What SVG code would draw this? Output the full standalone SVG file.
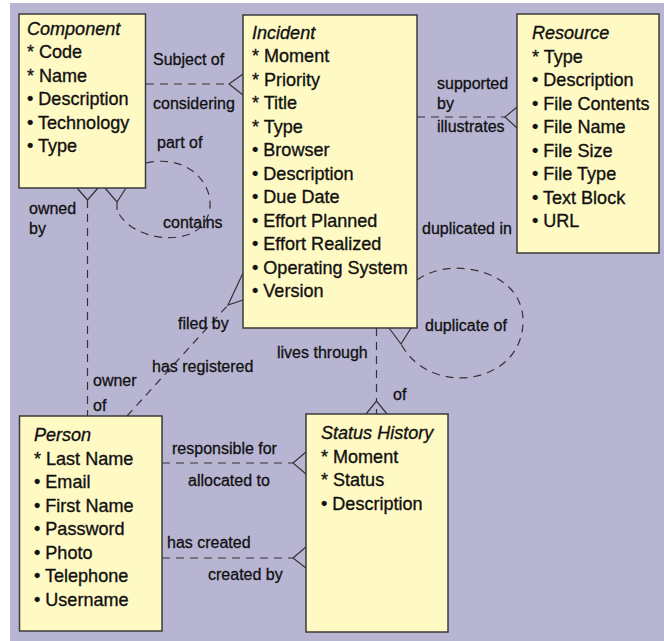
<svg xmlns="http://www.w3.org/2000/svg" width="664" height="641" viewBox="0 0 664 641">
<style>
.bg{fill:#b8b5d3}
.box{fill:#fff9c4;stroke:#3a3a3a;stroke-width:1.5}
.t{font-family:"Liberation Sans",Arial,sans-serif;font-size:19px;fill:#111;stroke:#111;stroke-width:0.35}
.ti{font-style:italic}
.lb{font-family:"Liberation Sans",Arial,sans-serif;font-size:16px;fill:#111;stroke:#111;stroke-width:0.3}
.dash{fill:none;stroke:#333;stroke-width:1.2;stroke-dasharray:8 6}
.crow{fill:none;stroke:#333;stroke-width:1.2}
</style>
<rect class="bg" x="10" y="3" width="654" height="638"/>

<g id="connectors">
  <!-- Component - Incident -->
  <path class="dash" d="M146,84 H229"/>
  <path class="crow" d="M243,74 L229,84 L243,95"/>
  <!-- Incident - Resource -->
  <path class="dash" d="M417,117 H505"/>
  <path class="crow" d="M517,107 L505,117 L517,128"/>
  <!-- Component self loop -->
  <path class="dash" d="M146,163 C195,152 222,195 205,222 C188,248 130,240 117,210"/>
  <path class="crow" d="M105,188 L117,202 L126,188 M117,202 V210"/>
  <!-- Component - Person (owned by) -->
  <path class="dash" d="M87.5,200 V416"/>
  <path class="crow" d="M77,188 L87.5,200 L98,188"/>
  <!-- Incident - Person (filed by) -->
  <path class="dash" d="M127,416 L228,305"/>
  <path class="crow" d="M243,273 L228,305 L243,300"/>
  <!-- Incident - Status History -->
  <path class="dash" d="M376.5,328 V401"/>
  <path class="crow" d="M366,414 L376.5,401 L387,414 M376.5,409 V414"/>
  <!-- Incident self loop -->
  <path class="dash" d="M417,280 C450,255 525,270 523,323 C521,385 430,398 401,344"/>
  <path class="crow" d="M389,328 L401,344 L411,328"/>
  <!-- Person - Status History -->
  <path class="dash" d="M162,463 H293"/>
  <path class="crow" d="M306,452 L293,463 L306,474"/>
  <path class="dash" d="M162,558 H293"/>
  <path class="crow" d="M306,547 L293,558 L306,568"/>
  <!-- labels -->
  <text class="lb" x="153" y="65">Subject of</text>
  <text class="lb" x="153" y="109">considering</text>
  <text class="lb" x="157" y="148">part of</text>
  <text class="lb" x="163" y="228">contains</text>
  <text class="lb" x="29" y="214">owned</text>
  <text class="lb" x="29" y="234">by</text>
  <text class="lb" x="93" y="386">owner</text>
  <text class="lb" x="93" y="410.5">of</text>
  <text class="lb" x="178" y="329">filed by</text>
  <text class="lb" x="152" y="372">has registered</text>
  <text class="lb" x="437" y="89">supported</text>
  <text class="lb" x="437" y="108.5">by</text>
  <text class="lb" x="437" y="132">illustrates</text>
  <text class="lb" x="422" y="234">duplicated in</text>
  <text class="lb" x="425" y="330.5">duplicate of</text>
  <text class="lb" x="277" y="358">lives through</text>
  <text class="lb" x="393" y="400">of</text>
  <text class="lb" x="172" y="454">responsible for</text>
  <text class="lb" x="188" y="486">allocated to</text>
  <text class="lb" x="167" y="548">has created</text>
  <text class="lb" x="208" y="580">created by</text>
</g>

<g id="component">
  <rect class="box" x="19" y="14" width="126.5" height="174"/>
  <g transform="translate(27,0) scale(0.95,1)">
    <text class="t ti" x="0" y="35.5">Component</text>
    <text class="t" x="0" y="58.5">* Code</text>
    <text class="t" x="0" y="82">* Name</text>
    <text class="t" x="0" y="105.5">• Description</text>
    <text class="t" x="0" y="129">• Technology</text>
    <text class="t" x="0" y="152.5">• Type</text>
  </g>
</g>

<g id="incident">
  <rect class="box" x="243" y="15" width="174" height="313"/>
  <g transform="translate(252,0) scale(0.95,1)">
    <text class="t ti" x="0" y="39">Incident</text>
    <text class="t" x="0" y="62.5">* Moment</text>
    <text class="t" x="0" y="86">* Priority</text>
    <text class="t" x="0" y="109.5">* Title</text>
    <text class="t" x="0" y="133">* Type</text>
    <text class="t" x="0" y="156.5">• Browser</text>
    <text class="t" x="0" y="180">• Description</text>
    <text class="t" x="0" y="203.5">• Due Date</text>
    <text class="t" x="0" y="227">• Effort Planned</text>
    <text class="t" x="0" y="250.5">• Effort Realized</text>
    <text class="t" x="0" y="274">• Operating System</text>
    <text class="t" x="0" y="297.5">• Version</text>
  </g>
</g>

<g id="resource">
  <rect class="box" x="517" y="14" width="142" height="239"/>
  <g transform="translate(532,0) scale(0.95,1)">
    <text class="t ti" x="0" y="39.5">Resource</text>
    <text class="t" x="0" y="63">* Type</text>
    <text class="t" x="0" y="86.5">• Description</text>
    <text class="t" x="0" y="110">• File Contents</text>
    <text class="t" x="0" y="133.5">• File Name</text>
    <text class="t" x="0" y="157">• File Size</text>
    <text class="t" x="0" y="180.5">• File Type</text>
    <text class="t" x="0" y="204">• Text Block</text>
    <text class="t" x="0" y="227.5">• URL</text>
  </g>
</g>

<g id="person">
  <rect class="box" x="19.5" y="416" width="142.5" height="215"/>
  <g transform="translate(34,0) scale(0.95,1)">
    <text class="t ti" x="0" y="441.5">Person</text>
    <text class="t" x="0" y="465">* Last Name</text>
    <text class="t" x="0" y="488.5">• Email</text>
    <text class="t" x="0" y="512">• First Name</text>
    <text class="t" x="0" y="535.5">• Password</text>
    <text class="t" x="0" y="559">• Photo</text>
    <text class="t" x="0" y="582.5">• Telephone</text>
    <text class="t" x="0" y="606">• Username</text>
  </g>
</g>

<g id="status-history">
  <rect class="box" x="306" y="414" width="142" height="218"/>
  <g transform="translate(321,0) scale(0.95,1)">
    <text class="t ti" x="0" y="439.5">Status History</text>
    <text class="t" x="0" y="463">* Moment</text>
    <text class="t" x="0" y="486.5">* Status</text>
    <text class="t" x="0" y="510">• Description</text>
  </g>
</g>
</svg>
